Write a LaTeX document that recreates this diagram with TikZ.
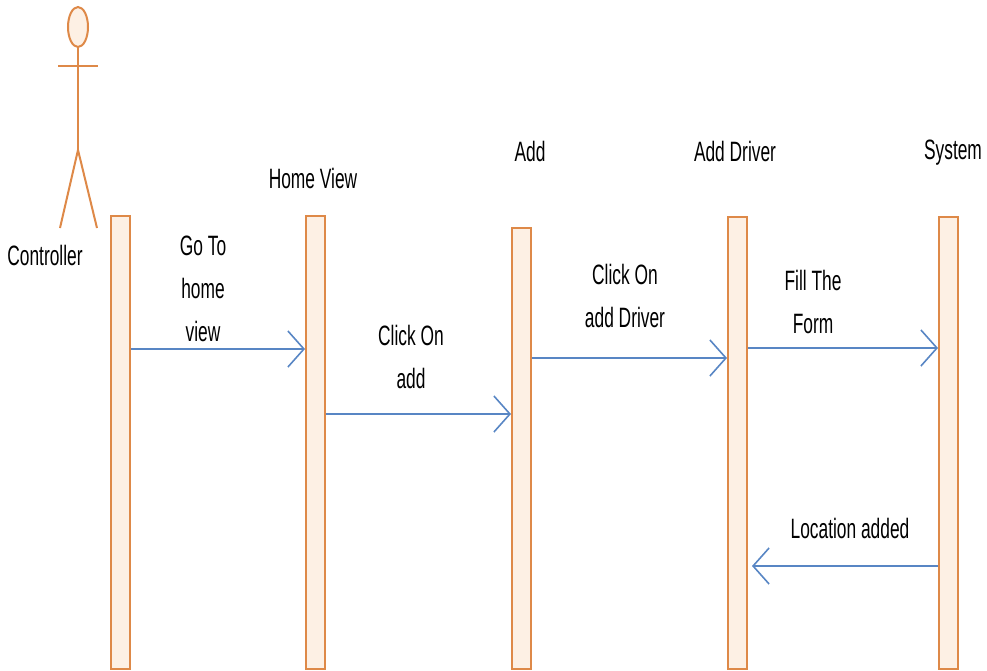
\documentclass[tikz,border=0pt]{standalone}
\usepackage{fontspec}
\newfontfamily\seqfont{Liberation Sans}[FakeStretch=0.62]
\usetikzlibrary{arrows.meta,positioning,calc}
\definecolor{barorange}{RGB}{222,137,72}
\definecolor{barfill}{RGB}{253,240,228}
\definecolor{msgblue}{RGB}{88,134,196}

\begin{document}
\begin{tikzpicture}[x=1pt, y=-1pt,
    lifebar/.style={draw=barorange, fill=barfill, line width=2pt, minimum width=19pt, inner sep=0pt, anchor=north},
    msg/.style={msgblue, line width=2.2pt, -{Straight Barb[length=16pt,width=36pt,line width=1.6pt]}},
    lbl/.style={font=\seqfont\fontsize{28}{43}\selectfont, align=center, inner sep=0pt}]
    \useasboundingbox (0,0) rectangle (987,670);

    % Actor
    \draw[barorange, line width=2pt, fill=barfill] (78,27) ellipse [x radius=10, y radius=20];
    \draw[barorange, line width=2pt] (78,47) -- (78,150);
    \draw[barorange, line width=2pt] (58,66) -- (98,66);
    \draw[barorange, line width=2pt] (60,228) -- (78,150) -- (97,228);
    \node[lbl] (ctrltxt) at (45,255) {Controller};

    % Lifelines
    \node[lifebar, minimum height=453pt] (ctrl) at (120,215) {};
    \node[lifebar, minimum height=453pt] (home) at (315.5,215) {};
    \node[lifebar, minimum height=441pt] (add) at (521.5,227) {};
    \node[lifebar, minimum height=452pt] (driver) at (737.5,216) {};
    \node[lifebar, minimum height=452pt] (system) at (948.5,216) {};

    \node[lbl] (hometxt) at (313,178) {Home View};
    \node[lbl] (addtxt) at (530,151) {Add};
    \node[lbl] (drivertxt) at (735,151) {Add Driver};
    \node[lbl] (systemtxt) at (953,153) {System};

    % Messages
    \coordinate (m1) at (0,349);
    \coordinate (m2) at (0,414);
    \coordinate (m3) at (0,358);
    \coordinate (m4) at (0,348);
    \coordinate (m5) at (0,566);
    \draw[msg] (ctrl.east |- m1) -- (home.west |- m1);
    \draw[msg] (home.east |- m2) -- (add.west |- m2);
    \draw[msg] (add.east |- m3) -- (driver.west |- m3);
    \draw[msg] (driver.east |- m4) -- (system.west |- m4);
    \draw[msg] (system.west |- m5) -- ($(driver.east |- m5)+(4,0)$);

    \node[lbl] (m1txt) at (203,289) {Go To\\home\\view};
    \node[lbl] (m2txt) at (411,357) {Click On\\add};
    \node[lbl] (m3txt) at (625,296) {Click On\\add Driver};
    \node[lbl] (m4txt) at (813,302) {Fill The\\Form};
    \node[lbl] (m5txt) at (850,528) {Location added};
\end{tikzpicture}
\end{document}
